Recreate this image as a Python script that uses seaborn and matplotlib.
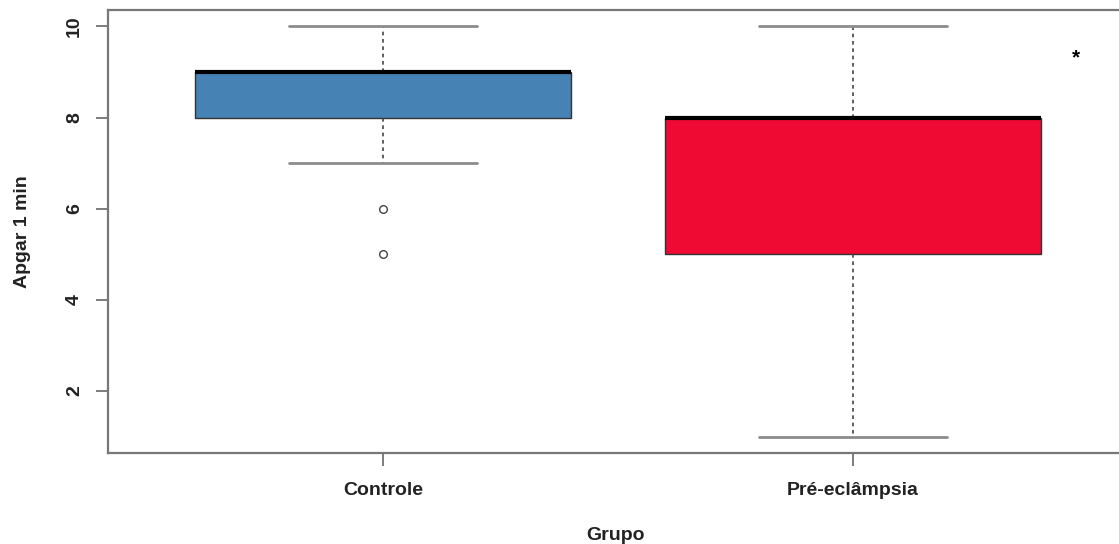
import matplotlib
matplotlib.use("Agg")
import matplotlib.pyplot as plt
import seaborn as sns
import pandas as pd

# Group labels and Apgar 1-min scores (samples consistent with the box statistics)
groups = ["Controle", "Pré-eclâmpsia"]
controle_scores = [5, 6, 7, 8, 8, 8, 8, 8, 9, 9, 9, 9, 9, 9, 9, 9, 10]
pre_scores = [1, 2, 3, 5, 5, 5, 6, 7, 8, 8, 8, 8, 8, 8, 9, 10, 10]
colors = ["#4682B4", "#EE0A32"]
y_ticks = [2, 4, 6, 8, 10]
annotation = "*"

df = pd.DataFrame({
    "Grupo": [groups[0]] * len(controle_scores) + [groups[1]] * len(pre_scores),
    "Apgar": controle_scores + pre_scores,
})

sns.set_theme(style="white")
plt.rcParams["font.family"] = ["Liberation Sans", "DejaVu Sans"]

fig = plt.figure(figsize=(11.19, 5.44), dpi=100)
W, H = 1119, 544
left, right, top, bottom = 108, 1123, 10, 453
ax = fig.add_axes([left / W, 1 - bottom / H, (right - left) / W, (bottom - top) / H])

sns.boxplot(
    data=df, x="Grupo", y="Apgar", hue="Grupo", order=groups, hue_order=groups,
    palette=colors, width=0.8, whis=1.5, ax=ax, legend=False, saturation=1,
    linecolor="#333333", linewidth=1.0,
    boxprops=dict(edgecolor="#333333", linewidth=1.0),
    medianprops=dict(color="black", linewidth=3.0),
    whiskerprops=dict(color="#444444", linestyle=(0, (2.2, 2.2)), linewidth=1.2),
    capprops=dict(color="#8c8c8c", linewidth=2.0),
    flierprops=dict(marker="o", markersize=5.5, markerfacecolor="white",
                    markeredgecolor="#444444", markeredgewidth=1.0),
)

ax.set_xlim(-0.585, 1.575)
ax.set_ylim(0.64, 10.36)
ax.set_yticks(y_ticks)
ax.set_yticklabels([str(t) for t in y_ticks], rotation=90, va="center",
                   fontsize=14, fontweight="bold")
ax.set_xticks(range(len(groups)))
ax.set_xticklabels(groups, fontsize=14, fontweight="bold")
ax.tick_params(axis="both", bottom=True, left=True, length=9, width=1.2,
               color="#666666", labelcolor="#222222")
ax.tick_params(axis="y", pad=9)
ax.tick_params(axis="x", pad=12)

for sp in ax.spines.values():
    sp.set_color("#777777")
    sp.set_linewidth(1.6)

ax.set_xlabel("Grupo", fontsize=14, fontweight="bold", labelpad=20, color="#222222")
ax.set_ylabel("Apgar 1 min", fontsize=14, fontweight="bold", labelpad=25, color="#222222")

ax.text(1.475, 9.31, annotation, fontsize=15, fontweight="bold", ha="center", va="center",
        color="black")

fig.savefig("out.png", dpi=100)
